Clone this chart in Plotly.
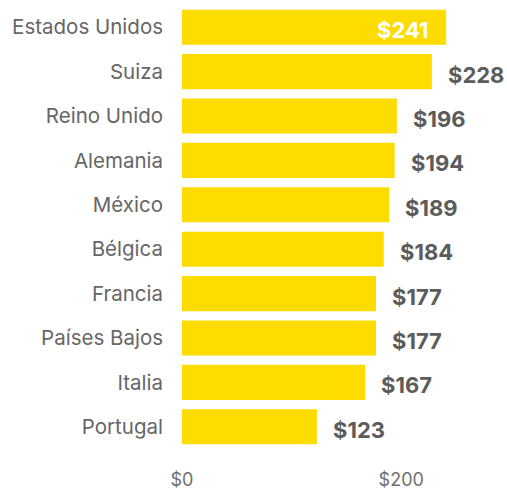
import plotly.graph_objects as go

countries = ["Estados Unidos", "Suiza", "Reino Unido", "Alemania", "México",
             "Bélgica", "Francia", "Países Bajos", "Italia", "Portugal"]
values = [241, 228, 196, 194, 189, 184, 177, 177, 167, 123]
tick_vals = [0, 200]
tick_text = ["$0", "$200"]

BAR = "#FFDC00"
LABEL = "#5c5c5c"
FONT = "Inter, Lato, sans-serif"

fig = go.Figure(go.Bar(
    x=values, y=countries, orientation="h",
    marker=dict(color=BAR, line=dict(width=0)),
    hoverinfo="skip",
))

# value labels: outside the bar, except when they would run off the chart
for c, v in zip(countries, values):
    inside = v >= 235
    fig.add_annotation(
        x=v, y=c, xref="x", yref="y",
        text=f"<b>${v}</b>", showarrow=False,
        xanchor="right" if inside else "left",
        xshift=-16 if inside else 14, yshift=-3,
        font=dict(family=FONT, size=22, color="white" if inside else LABEL),
    )

fig.update_layout(
    width=507, height=491,
    margin=dict(l=182, r=40, t=5, b=42),
    plot_bgcolor="white", paper_bgcolor="white",
    bargap=0.21, showlegend=False,
    font=dict(family=FONT, color="#666666"),
)
fig.update_xaxes(
    range=[0, 260], tickvals=tick_vals, ticktext=tick_text,
    showgrid=False, zeroline=False, showline=False, automargin=False,
    tickfont=dict(size=18, color="#707070"), ticklabelstandoff=18,
)
fig.update_yaxes(
    categoryorder="array", categoryarray=countries, autorange="reversed",
    showgrid=False, zeroline=False, showline=False, automargin=False,
    tickfont=dict(size=20.5, color="#666666"), ticklabelstandoff=18,
)

fig.write_html("out.html")
